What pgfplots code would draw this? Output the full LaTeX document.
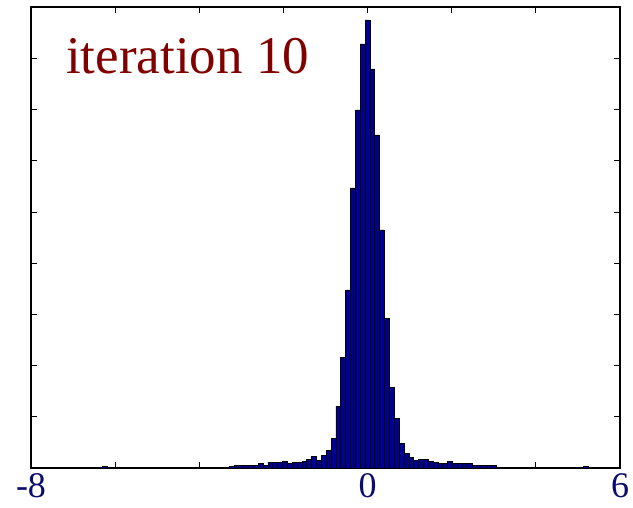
\documentclass[border=0pt]{standalone}
\usepackage{pgfplots}
\pgfplotsset{compat=1.18}
\usepackage{fontspec}
\setmainfont{Liberation Serif}
\definecolor{barblue}{RGB}{0,0,145}
\definecolor{labnavy}{RGB}{12,12,110}
\definecolor{maroonred}{RGB}{128,0,0}
\begin{document}
\begin{tikzpicture}
\useasboundingbox (-31pt,-39pt) rectangle (602pt,468pt);
\begin{axis}[
  at={(0pt,0pt)}, anchor=south west,
  width=589pt, height=461pt, scale only axis,
  xmin=-8, xmax=6, ymin=0, ymax=461,
  axis line style={line width=1.4pt},
  tick align=inside,
  major tick length=6pt,
  tick style={black, line width=0.8pt},
  xtick={-8,-6,-4,-2,0,2,4,6},
  xticklabels={-8,,,,0,,,6},
  ytick={51.2,102.4,153.6,204.8,256,307.2,358.4,409.6},
  yticklabels={},
  xticklabel style={font=\fontsize{36}{36}\selectfont, text=labnavy, inner sep=0pt, yshift=-5pt},
  clip=false,
]
\addplot[ybar interval, fill=barblue, draw=black, line width=0.6pt] table {
x y
-6.297 1.5
-6.182 0
-6.066 0
-5.951 0
-5.835 0
-5.720 0
-5.604 0
-5.489 1
-5.373 1
-5.258 0
-5.142 1
-5.027 1
-4.911 1
-4.796 1
-4.680 0.5
-4.565 1
-4.449 1
-4.334 1
-4.218 1
-4.103 1
-3.987 1
-3.872 0.5
-3.756 1
-3.641 1
-3.525 1
-3.410 1
-3.294 2
-3.179 2.7
-3.063 2.3
-2.948 2.3
-2.832 2.3
-2.717 2.3
-2.601 4.7
-2.486 3
-2.370 6
-2.255 5.3
-2.139 5.3
-2.024 6.5
-1.908 5
-1.793 6
-1.677 6
-1.562 7
-1.446 9
-1.331 12
-1.215 8
-1.100 13
-0.984 18
-0.869 30
-0.753 62
-0.638 111
-0.522 178
-0.407 280
-0.291 358
-0.176 424
-0.060 448
0.056 399
0.171 333
0.287 238
0.402 150
0.518 81
0.633 50
0.749 25
0.864 14.5
0.980 10.3
1.095 7.3
1.211 9
1.326 9
1.442 6.3
1.557 5.7
1.673 4.7
1.788 4.7
1.904 7
2.019 4.7
2.135 4.7
2.250 4.7
2.366 4.7
2.481 3
2.597 3
2.712 3
2.828 3
2.943 3
3.059 1
3.174 1
3.290 1
3.405 1
3.521 0.5
3.636 0.5
3.752 1
3.867 1
3.983 1
4.098 0.5
4.214 0.5
4.329 0.5
4.445 0.5
4.560 1
4.676 1
4.791 1
4.907 1
5.022 0
5.138 2
5.253 0
};
\node[anchor=base west, inner sep=0pt, text=maroonred, font=\fontsize{53}{53}\selectfont] at (axis cs:-7.17,394) {iteration 10};
\end{axis}
\end{tikzpicture}
\end{document}
